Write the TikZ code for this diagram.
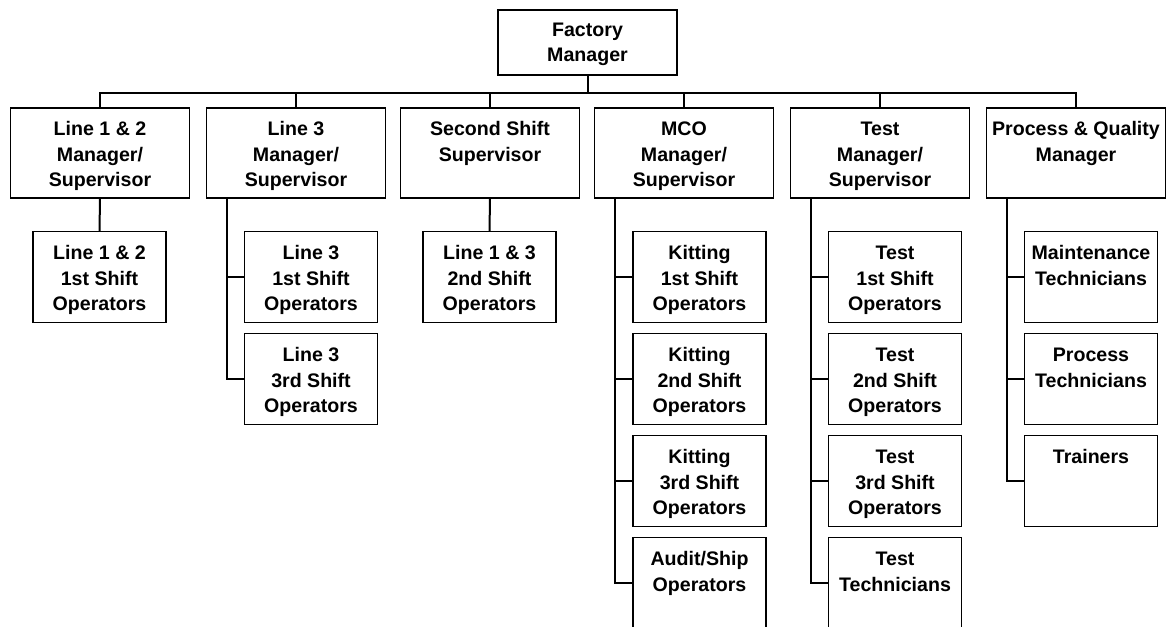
\documentclass[tikz,border=0pt]{standalone}
\usepackage{fontspec}
\newfontfamily\chartfont{Liberation Sans Bold}
% three text lines with fixed top/bottom struts so every box is top-aligned
\newcommand\boxlines[3]{\rule{0pt}{21pt}#1\\#2\\#3\rule[-5pt]{0pt}{5pt}}
\begin{document}
\begin{tikzpicture}[x=1pt,y=-1pt,
  box/.style={draw, line width=1.4pt, inner sep=0pt, align=center,
    font=\chartfont\fontsize{19.6}{25.5}\selectfont},
  head/.style={box, minimum width=179pt, minimum height=65pt},
  mgr/.style={box, minimum width=179pt, minimum height=90pt},
  crew/.style={box, minimum width=133pt, minimum height=91pt},
  link/.style={line width=2pt}]
\useasboundingbox (0,0) rectangle (1169,626);
\clip (0,0) rectangle (1169,626);

% top of the hierarchy
\node[head] (fm) at (587.5,42.5) {\rule{0pt}{18.5pt}Factory\\Manager\rule[-5pt]{0pt}{5pt}};

% managers / supervisors
\node[mgr] (m1) at (100,153)  {\boxlines{Line 1 \& 2}{Manager/}{Supervisor}};
\node[mgr] (m2) at (296,153)  {\boxlines{Line 3}{Manager/}{Supervisor}};
\node[mgr] (m3) at (490,153)  {\boxlines{Second Shift}{Supervisor}{~}};
\node[mgr] (m4) at (684,153)  {\boxlines{MCO}{Manager/}{Supervisor}};
\node[mgr] (m5) at (880,153)  {\boxlines{Test}{Manager/}{Supervisor}};
\node[mgr] (m6) at (1076,153) {\boxlines{Process \& Quality}{Manager}{~}};

% crews
\node[crew] (c1)  at (99.5,277)  {\boxlines{Line 1 \& 2}{1st Shift}{Operators}};
\node[crew] (c2a) at (311,277)   {\boxlines{Line 3}{1st Shift}{Operators}};
\node[crew] (c2b) at (311,379)   {\boxlines{Line 3}{3rd Shift}{Operators}};
\node[crew] (c3)  at (489.5,277) {\boxlines{Line 1 \& 3}{2nd Shift}{Operators}};

\node[crew] (c4a) at (699.5,277) {\boxlines{Kitting}{1st Shift}{Operators}};
\node[crew] (c4b) at (699.5,379) {\boxlines{Kitting}{2nd Shift}{Operators}};
\node[crew] (c4c) at (699.5,481) {\boxlines{Kitting}{3rd Shift}{Operators}};
\node[crew] (c4d) at (699.5,583) {\boxlines{Audit/Ship}{Operators}{~}};

\node[crew] (c5a) at (895,277) {\boxlines{Test}{1st Shift}{Operators}};
\node[crew] (c5b) at (895,379) {\boxlines{Test}{2nd Shift}{Operators}};
\node[crew] (c5c) at (895,481) {\boxlines{Test}{3rd Shift}{Operators}};
\node[crew] (c5d) at (895,583) {\boxlines{Test}{Technicians}{~}};

\node[crew] (c6a) at (1091,277) {\boxlines{Maintenance}{Technicians}{~}};
\node[crew] (c6b) at (1091,379) {\boxlines{Process}{Technicians}{~}};
\node[crew] (c6c) at (1091,481) {\boxlines{Trainers}{~}{~}};

% factory manager to each manager
\foreach \m in {m1,m2,m3,m4,m5,m6}
  \draw[link] (fm.south) -- ++(0,17) -| (\m.north);

% single reports
\draw[link] (m1.south) -- (c1.north);
\draw[link] (m3.south) -- (c3.north);

% trunk-and-branch reports
\foreach \c in {c2a,c2b}
  \draw[link] ([xshift=21.5pt]m2.south west) |- (\c.west);
\foreach \c in {c4a,c4b,c4c,c4d}
  \draw[link] ([xshift=21.5pt]m4.south west) |- (\c.west);
\foreach \c in {c5a,c5b,c5c,c5d}
  \draw[link] ([xshift=21.5pt]m5.south west) |- (\c.west);
\foreach \c in {c6a,c6b,c6c}
  \draw[link] ([xshift=21.5pt]m6.south west) |- (\c.west);
\end{tikzpicture}
\end{document}
